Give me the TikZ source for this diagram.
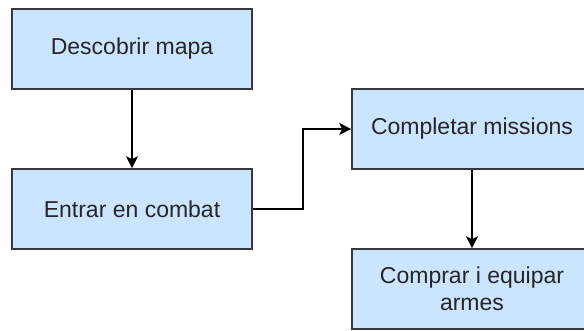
\documentclass[tikz,border=0pt]{standalone}
\usepackage{fontspec}
\setmainfont{Liberation Sans}
\usetikzlibrary{arrows.meta}
\definecolor{boxfill}{HTML}{CCE5FF}
\definecolor{boxline}{HTML}{36393D}
\tikzset{
  stepbox/.style={draw=boxline, line width=1.6pt, fill=boxfill,
    minimum width=240pt, minimum height=80pt, inner sep=0pt,
    align=center, text=black!85,
    font=\fontsize{23pt}{27pt}\selectfont},
  flow/.style={draw=black, line width=1.6pt,
    -{Stealth[length=12pt, width=12pt, inset=3pt]}}
}
\begin{document}
\begin{tikzpicture}[x=1pt, y=-1pt]
  \useasboundingbox (0,0) rectangle (584,331);
  \clip (0,0) rectangle (584,331);
  \node[stepbox] (map)    at (132,49)  {Descobrir mapa};
  \node[stepbox] (combat) at (132,209) {Entrar en combat};
  \node[stepbox] (miss)   at (472,129) {Completar missions};
  \node[stepbox] (buy)    at (472,289) {Comprar i equipar\\armes};
  \draw[flow] (map) -- (combat);
  \draw[flow] (combat.east) -- ++(50,0) |- (miss.west);
  \draw[flow] (miss) -- (buy);
\end{tikzpicture}
\end{document}
